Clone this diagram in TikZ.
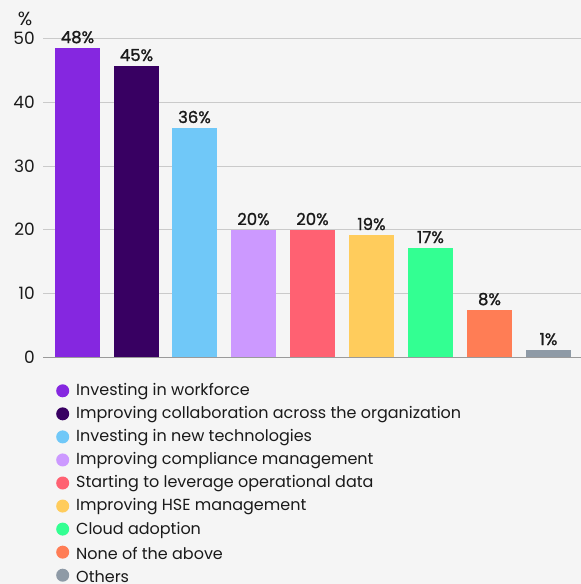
\documentclass[tikz,border=0pt]{standalone}
\usepackage{fontspec}
\setmainfont{Poppins}
\definecolor{bg}{HTML}{F5F5F5}
\definecolor{gridc}{HTML}{CACACA}
\definecolor{basec}{HTML}{9A9A9A}
\definecolor{txt}{HTML}{1A1A1A}
\definecolor{cA}{HTML}{8527E0}
\definecolor{cB}{HTML}{380062}
\definecolor{cC}{HTML}{70C8F8}
\definecolor{cD}{HTML}{CC99FF}
\definecolor{cE}{HTML}{FF6172}
\definecolor{cF}{HTML}{FFCC5C}
\definecolor{cG}{HTML}{33FF92}
\definecolor{cH}{HTML}{FF7D55}
\definecolor{cI}{HTML}{8E9AA6}
\tikzset{
  gridline/.style={draw=gridc, line width=1pt},
  baseline0/.style={draw=basec, line width=1.3pt},
  ticklab/.style={anchor=east, font=\fontsize{17}{17}\selectfont, text=txt, inner sep=0pt},
  vallab/.style={anchor=base, font=\fontsize{16.5}{17}\selectfont\addfontfeature{FakeBold=1.2}, text=txt, inner sep=0pt},
  legdot/.style={circle, inner sep=0pt, minimum size=13pt},
  legtext/.style={anchor=west, font=\fontsize{16}{16}\selectfont, text=txt, inner sep=0pt},
}
\begin{document}
\begin{tikzpicture}[x=1pt,y=-1pt]
\fill[bg] (0,0) rectangle (581,584);
\useasboundingbox (0,0) rectangle (581,584);
% grid
\foreach \v/\yy in {50/38.6,40/102.3,30/166,20/229.7,10/293.4}{
  \draw[gridline] (43,\yy) -- (581,\yy);
  \node[ticklab] at (35,\yy) {\v};
}
\node[ticklab] at (35,357.3) {0};
\node[anchor=center, font=\fontsize{19}{19}\selectfont, text=txt, inner sep=0pt] (pct) at (25,18.5) {\%};
% bars
\foreach \i/\xl/\top/\c/\lab in {
  1/55/48/cA/48\%,
  2/114/66/cB/45\%,
  3/172/128/cC/36\%,
  4/231/230/cD/20\%,
  5/290/230/cE/20\%,
  6/349/235/cF/19\%,
  7/408/248/cG/17\%,
  8/467/310/cH/8\%,
  9/526/350/cI/1\%}{
  \fill[\c] (\xl,\top) rectangle ++(45,357.3-\top);
  \node[vallab] (v\i) at (\xl+22.5,\top-5) {\lab};
}
\draw[baseline0] (43,357.3) -- (581,357.3);
% legend
\foreach \i/\c/\t in {
  0/cA/Investing in workforce,
  1/cB/Improving collaboration across the organization,
  2/cC/Investing in new technologies,
  3/cD/Improving compliance management,
  4/cE/Starting to leverage operational data,
  5/cF/Improving HSE management,
  6/cG/Cloud adoption,
  7/cH/None of the above,
  8/cI/Others}{
  \node[legdot, fill=\c] (d\i) at (62.7,390.8+\i*23.05) {};
  \node[legtext] (t\i) at (76,391.8+\i*23.05) {\t};
}
\end{tikzpicture}
\end{document}
